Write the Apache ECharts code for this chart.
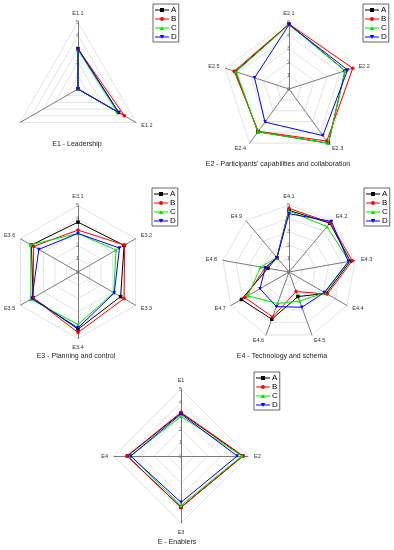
<!DOCTYPE html>
<html>
<head>
<meta charset="utf-8">
<script src="https://cdn.jsdelivr.net/npm/echarts@6/dist/echarts.min.js"></script>
<style>
html,body{margin:0;padding:0;background:#fff;}
#chart{width:394px;height:550px;}
</style>
</head>
<body>
<div id="chart"></div>
<script>
// ---------- DATA ----------
const seriesNames = ['A', 'B', 'C', 'D'];
const tickLabels = [0, 1, 2, 3, 4, 5];

const e1Categories = ['E1.1', 'E1.2', ''];
const e1A = [3.0, 3.5, 0];
const e1B = [3.0, 4.0, 0];
const e1C = [2.9, 3.35, 0];
const e1D = [3.0, 3.5, 0];

const e2Categories = ['E2.1', 'E2.2', 'E2.3', 'E2.4', 'E2.5'];
const e2A = [4.85, 4.4, 5.0, 3.95, 4.2];
const e2B = [4.85, 5.0, 4.8, 3.9, 4.3];
const e2C = [4.8, 4.4, 5.0, 3.95, 4.15];
const e2D = [4.8, 4.6, 4.3, 3.05, 2.7];

const e3Categories = ['E3.1', 'E3.2', 'E3.3', 'E3.4', 'E3.5', 'E3.6'];
const e3A = [3.75, 4.0, 3.7, 4.3, 3.9, 4.05];
const e3B = [3.15, 4.05, 4.0, 4.55, 3.9, 3.85];
const e3C = [2.9, 3.3, 3.1, 3.95, 4.1, 4.1];
const e3D = [2.9, 3.6, 3.15, 4.2, 4.0, 3.4];

const e4Categories = ['E4.1', 'E4.2', 'E4.3', 'E4.4', 'E4.5', 'E4.6', 'E4.7', 'E4.8', 'E4.9'];
const e4A = [4.6, 4.75, 4.65, 3.2, 1.95, 3.75, 4.1, 1.6, 1.4];
const e4B = [4.75, 4.8, 4.8, 3.3, 1.55, 3.57, 3.8, 1.8, 1.4];
const e4C = [4.55, 4.42, 4.55, 3.1, 2.3, 2.5, 3.55, 2.15, 1.4];
const e4D = [4.35, 4.93, 4.5, 3.05, 2.8, 2.75, 2.5, 1.8, 1.4];

const eCategories = ['E1', 'E2', 'E3', 'E4'];
const eA = [3.2, 4.6, 3.83, 4.0];
const eB = [3.26, 4.65, 3.83, 4.03];
const eC = [2.96, 4.55, 3.7, 3.75];
const eD = [3.13, 4.2, 3.46, 3.76];

const chartTitles = [
  'E1 - Leadership',
  "E2 - Participants' capabilities and collaboration",
  'E3 - Planning and control',
  'E4 - Technology and schema',
  'E - Enablers'
];

// ---------- LAYOUT / STYLE ----------
const FONT = '"Liberation Sans", Arial, sans-serif';
const charts = [
  { cats: e1Categories, vals: [e1A, e1B, e1C, e1D], center: [78, 89], r: 67, title: [77, 145], legend: [153, 4] },
  { cats: e2Categories, vals: [e2A, e2B, e2C, e2D], center: [289, 89], r: 67, title: [278, 165], legend: [363, 4] },
  { cats: e3Categories, vals: [e3A, e3B, e3C, e3D], center: [78, 272], r: 66.5, title: [76, 357], legend: [152, 188] },
  { cats: e4Categories, vals: [e4A, e4B, e4C, e4D], center: [289, 272], r: 67, title: [282, 357], legend: [364, 188] },
  { cats: eCategories, vals: [eA, eB, eC, eD], center: [181, 456], r: 67, title: [177, 543], legend: [254, 372] }
];
const colors = ['#000000', '#ff0000', '#00e600', '#0000ff'];
const symbols = ['rect', 'circle', 'triangle', 'path://M0,0 L10,0 L5,10 Z'];
const legendIcons = [
  'path://M0,1.5 L14,1.5 L14,2.5 L0,2.5 Z M5,0 L9,0 L9,4 L5,4 Z',
  'path://M0,1.5 L14,1.5 L14,2.5 L0,2.5 Z M7,0 A2,2 0 1,1 7,4 A2,2 0 1,1 7,0 Z',
  'path://M0,1.5 L14,1.5 L14,2.5 L0,2.5 Z M7,0 L9.2,4 L4.8,4 Z',
  'path://M0,1.5 L14,1.5 L14,2.5 L0,2.5 Z M4.8,0 L9.2,0 L7,4 Z'
];

// ECharts places radar indicators counter-clockwise; reorder for clockwise layout
function cw(arr) {
  return [arr[0]].concat(arr.slice(1).reverse());
}

const radars = [], polars = [], angleAxes = [], radiusAxes = [], titles = [], legends = [], series = [];
charts.forEach((c, i) => {
  radars.push({
    center: c.center,
    radius: c.r,
    startAngle: 90,
    shape: 'polygon',
    splitNumber: 5,
    indicator: cw(c.cats).map(n => ({ name: n, min: 0, max: 5 })),
    axisName: { color: '#333', fontSize: 5.5, fontFamily: FONT },
    nameGap: 6,
    splitArea: { show: false },
    splitLine: { lineStyle: { color: '#e4e4e4', width: 1 } },
    axisLine: { lineStyle: { color: '#7a7a7a', width: 1 } },
    axisTick: { show: false },
    axisLabel: { show: false }
  });
  polars.push({ center: c.center, radius: c.r });
  angleAxes.push({ polarIndex: i, startAngle: 90, min: 0, max: 360, show: false });
  radiusAxes.push({
    polarIndex: i, min: tickLabels[0], max: tickLabels[tickLabels.length - 1], interval: 1,
    axisLine: { show: false }, axisTick: { show: false }, splitLine: { show: false },
    axisLabel: { show: true, fontSize: 5.5, color: '#666', fontFamily: FONT, margin: -1 }
  });
  titles.push({
    text: chartTitles[i],
    left: c.title[0], top: c.title[1] - 4,
    textAlign: 'center',
    padding: 0,
    textStyle: { fontSize: 7, fontWeight: 'normal', color: '#222', fontFamily: FONT }
  });
  legends.push({
    orient: 'vertical',
    left: c.legend[0], top: c.legend[1],
    padding: [2, 2, 1, 2],
    itemGap: 1,
    itemWidth: 14, itemHeight: 4,
    borderColor: '#666', borderWidth: 1,
    backgroundColor: '#fff',
    textStyle: { fontSize: 8, color: '#000', fontFamily: FONT, padding: [0, 0, 0, -3], lineHeight: 7 },
    data: seriesNames.map((n, k) => ({ name: n, icon: legendIcons[k], itemStyle: { color: colors[k] } }))
  });
  seriesNames.forEach((n, k) => {
    series.push({
      type: 'radar',
      radarIndex: i,
      name: n,
      symbol: symbols[k],
      symbolSize: 3.5,
      lineStyle: { color: colors[k], width: 1 },
      itemStyle: { color: colors[k] },
      z: 2 + k,
      data: [{ name: n, value: cw(c.vals[k]) }]
    });
  });
});

const chart = echarts.init(document.getElementById('chart'), null, { renderer: 'canvas' });
chart.setOption({
  animation: false,
  backgroundColor: '#fff',
  textStyle: { fontFamily: FONT },
  title: titles,
  legend: legends,
  radar: radars,
  polar: polars,
  angleAxis: angleAxes,
  radiusAxis: radiusAxes,
  series: series
});
</script>
</body>
</html>
